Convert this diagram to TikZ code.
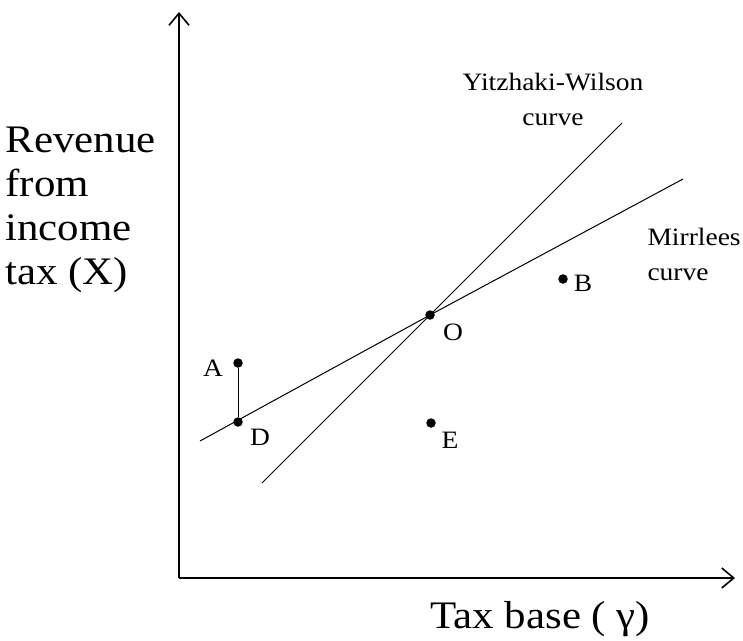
\documentclass[tikz,border=0pt]{standalone}
\usepackage{fontspec}
\setmainfont{Liberation Serif}[FakeStretch=1.1]
\usetikzlibrary{arrows.meta, positioning}
\tikzset{
  pt/.style={circle, fill=black, inner sep=0pt, minimum size=9.5pt},
  lbl/.style={font=\fontsize{25}{35}\selectfont, inner sep=0pt},
  big/.style={font=\fontsize{39}{44}\selectfont, inner sep=0pt},
  axis/.style={line width=1.3pt, -{Straight Barb[length=12pt, width=20pt, line width=1.6pt]}},
}
\begin{document}
\begin{tikzpicture}[x=1pt, y=-1pt, line width=1pt]
    \useasboundingbox (0,0) rectangle (743,640);

    % axes
    \coordinate (orig) at (179,578);
    \coordinate (ytop) at (179,12);
    \coordinate (xend) at (735,578);
    \draw[axis] (orig) -- (ytop);
    \draw[axis] (orig) -- (xend);

    % points
    \node[pt] (O) at (430,315) {};
    \node[pt] (A) at (238,363) {};
    \node[pt] (D) at (238,422) {};
    \node[pt] (B) at (563,279) {};
    \node[pt] (E) at (431,423) {};

    % the two curves, both through O
    \coordinate (m1) at (200,441);
    \coordinate (m2) at (683,179);
    \coordinate (y1) at (262,483);
    \coordinate (y2) at (622,123);
    \draw (m1) -- (O.center) -- (m2);
    \draw (y1) -- (O.center) -- (y2);
    \draw (A) -- (D);

    % point labels
    \node[lbl] (labA) at (213,368) {A};
    \node[lbl] (labD) at (260,437) {D};
    \node[lbl] (labO) at (453,332) {O};
    \node[lbl] (labB) at (583,283) {B};
    \node[lbl] (labE) at (450,440) {E};

    % curve names
    \node[lbl, align=center, anchor=north] (yw) at (553,73) {Yitzhaki-Wilson\\curve};
    \node[lbl, align=left, anchor=north west] (mir) at (647,228) {Mirrlees\\curve};

    % axis titles
    \node[big, align=left, anchor=north west] (ylab) at (5,126) {Revenue\\from\\income\\tax (X)};
    \node[big, anchor=base west] (xlab) at (430,628) {Tax base ( γ)};
\end{tikzpicture}
\end{document}
